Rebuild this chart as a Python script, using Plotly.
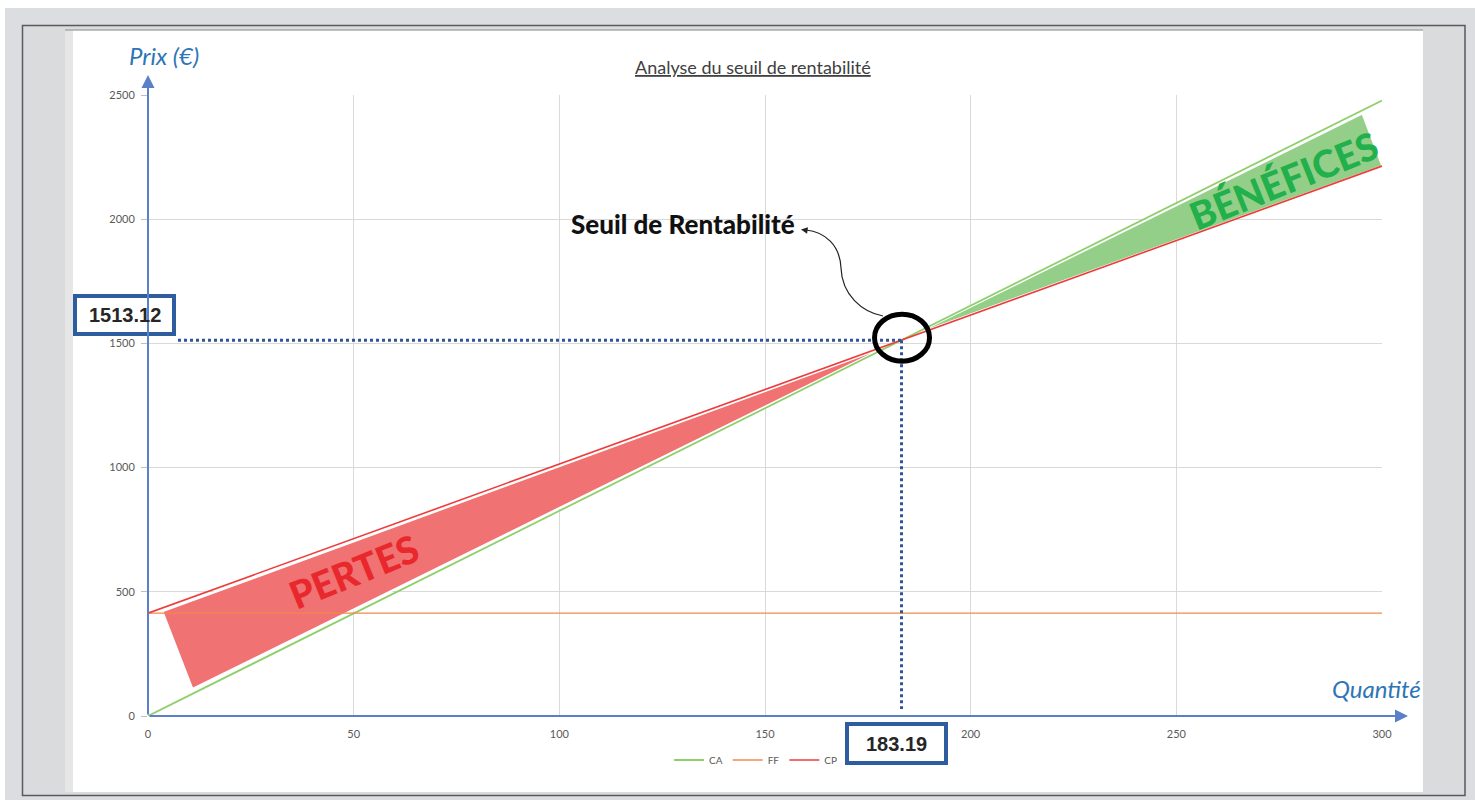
import numpy as np
import plotly.graph_objects as go

# ---- data -------------------------------------------------------------
quantite = [0, 50, 100, 150, 200, 250, 300]
ca = [0, 413, 826, 1239, 1652, 2065, 2478]          # chiffre d'affaires
ff = [414, 414, 414, 414, 414, 414, 414]            # frais fixes
cp = [414, 714, 1014, 1314, 1614, 1914, 2214]       # coût de production
seuil_q = 183.19
seuil_prix = 1513.12

x_ticks = [0, 50, 100, 150, 200, 250, 300]
y_ticks = [0, 500, 1000, 1500, 2000, 2500]

# ---- geometry of the page ----------------------------------------------
FIG_W, FIG_H = 1475, 800
L, T, PW, PH = 148, 95, 1234, 621     # plot area in page pixels


def px(x):
    return (x - L) / PW


def py(y):
    return (T + PH - y) / PH


def on_ca(q):
    return float(np.interp(q, quantite, ca))


def on_cp(q):
    return float(np.interp(q, quantite, cp))


FONT = "Lato"
BLUE_TXT = "#2e75b6"
BOX_BLUE = "#2d5d9f"
DOT_BLUE = "#2f5597"

fig = go.Figure()

fig.add_trace(go.Scatter(x=quantite, y=ca, name="CA", mode="lines",
                         line=dict(color="#8fcf6c", width=1.8)))
fig.add_trace(go.Scatter(x=quantite, y=ff, name="FF", mode="lines",
                         line=dict(color="#f08a4b", width=1.4)))
fig.add_trace(go.Scatter(x=quantite, y=cp, name="CP", mode="lines",
                         line=dict(color="#ee3b3b", width=1.6)))

shapes = []

# page background: grey window, dark frame, white sheet
shapes.append(dict(type="rect", xref="paper", yref="paper", layer="below",
                   x0=px(5), x1=px(FIG_W), y0=py(8), y1=py(FIG_H),
                   fillcolor="#dcdde0", line=dict(width=0)))
shapes.append(dict(type="rect", xref="paper", yref="paper", layer="below",
                   x0=px(22.5), x1=px(1465), y0=py(25.5), y1=py(795.5),
                   fillcolor="#dadbdd", line=dict(color="#5a5a5a", width=1.5)))
shapes.append(dict(type="rect", xref="paper", yref="paper", layer="below",
                   x0=px(65), x1=px(73), y0=py(29.5), y1=py(792),
                   fillcolor="#e6e6e6", line=dict(width=0)))
shapes.append(dict(type="rect", xref="paper", yref="paper", layer="below",
                   x0=px(73), x1=px(1423), y0=py(30), y1=py(792),
                   fillcolor="white", line=dict(width=0)))
shapes.append(dict(type="line", xref="paper", yref="paper", layer="below",
                   x0=px(65), x1=px(1423), y0=py(30), y1=py(30),
                   line=dict(color="#a8a8a8", width=1.5)))

# loss area (between CP and CA, left of the break-even point)
apex_l = seuil_q - 3.5
pertes_path = "M {},{} L {},{} L {},{} Z".format(
    3.5, on_cp(3.5) - 14,
    apex_l, (on_ca(apex_l) + on_cp(apex_l)) / 2,
    10.8, on_ca(10.8) + 20)
shapes.append(dict(type="path", xref="x", yref="y", layer="between",
                   path=pertes_path, fillcolor="#f07272",
                   line=dict(color="white", width=2)))

# profit area (between CA and CP, right of the break-even point)
apex_r = seuil_q + 3.5
benef_path = "M {},{} L {},{} L {},{} Z".format(
    apex_r, (on_ca(apex_r) + on_cp(apex_r)) / 2,
    295.2, on_ca(295.2) - 14,
    300, on_cp(300))
shapes.append(dict(type="path", xref="x", yref="y", layer="between",
                   path=benef_path, fillcolor="#93cf88",
                   line=dict(color="white", width=1.5)))

# dotted guides to the break-even values
shapes.append(dict(type="line", xref="paper", yref="y", layer="above",
                   x0=px(178), x1=px(L + seuil_q * PW / 300),
                   y0=seuil_prix, y1=seuil_prix,
                   line=dict(color=DOT_BLUE, width=3, dash="dot")))
shapes.append(dict(type="line", xref="x", yref="y", layer="above",
                   x0=seuil_q, x1=seuil_q, y0=seuil_prix, y1=28,
                   line=dict(color=DOT_BLUE, width=3, dash="dot")))

# circle around the break-even point
shapes.append(dict(type="circle", xref="x", yref="y", layer="above",
                   xsizemode="pixel", ysizemode="pixel",
                   xanchor=seuil_q, yanchor=seuil_prix,
                   x0=-27, x1=28, y0=-21, y1=26,
                   line=dict(color="black", width=5)))

# curved pointer from the circle to its label
pts = [(883, 316), (862, 312), (842, 295), (841, 268),
       (840, 245), (825, 232), (806, 230)]
pp = [(px(a), py(b)) for a, b in pts]
curve = "M {},{} C {},{} {},{} {},{} C {},{} {},{} {},{}".format(
    *[v for p in pp for v in p])
shapes.append(dict(type="path", xref="paper", yref="paper", layer="above",
                   path=curve, line=dict(color="#222222", width=1.2)))

# value boxes
shapes.append(dict(type="rect", xref="paper", yref="paper", layer="above",
                   x0=px(75), x1=px(174), y0=py(296), y1=py(334),
                   fillcolor="white", line=dict(color=BOX_BLUE, width=4)))
shapes.append(dict(type="rect", xref="paper", yref="paper", layer="above",
                   x0=px(847), x1=px(946), y0=py(724), y1=py(763),
                   fillcolor="white", line=dict(color=BOX_BLUE, width=4)))

annotations = []

# axis arrows
annotations.append(dict(xref="paper", yref="paper", x=0, y=py(75), text="",
                        showarrow=True, axref="pixel", ayref="pixel",
                        ax=0, ay=716 - 75, arrowhead=2, arrowsize=1.3,
                        arrowwidth=2, arrowcolor="#5a80c8"))
annotations.append(dict(xref="paper", yref="paper", x=px(1408), y=0, text="",
                        showarrow=True, axref="pixel", ayref="pixel",
                        ax=-(1408 - L), ay=0, arrowhead=2, arrowsize=1.3,
                        arrowwidth=2, arrowcolor="#5a80c8"))

# arrowhead of the pointer
annotations.append(dict(xref="paper", yref="paper", x=px(801), y=py(229.5),
                        text="", showarrow=True, ax=7, ay=1, arrowhead=2,
                        arrowsize=1.1, arrowwidth=1.2, arrowcolor="#222222"))

# title and axis names
annotations.append(dict(xref="paper", yref="paper", x=px(753), y=py(67),
                        text="<u>Analyse du seuil de rentabilité</u>",
                        showarrow=False, xanchor="center", yanchor="middle",
                        font=dict(family=FONT, size=18, color="#404040")))
annotations.append(dict(xref="paper", yref="paper", x=px(164), y=py(56),
                        text="<i>Prix (€)</i>", showarrow=False,
                        xanchor="center", yanchor="middle",
                        font=dict(family=FONT, size=24, color=BLUE_TXT)))
annotations.append(dict(xref="paper", yref="paper", x=px(1376), y=py(688),
                        text="<i>Quantité</i>", showarrow=False,
                        xanchor="center", yanchor="middle",
                        font=dict(family=FONT, size=24, color=BLUE_TXT)))

# break-even label
annotations.append(dict(xref="paper", yref="paper", x=px(683), y=py(224),
                        text="Seuil de Rentabilité", showarrow=False,
                        xanchor="center", yanchor="middle",
                        font=dict(family=FONT, size=26, color="#111111",
                                  weight=900)))

# zone labels
annotations.append(dict(xref="paper", yref="paper", x=px(353), y=py(571),
                        text="PERTES", showarrow=False, textangle=-22,
                        xanchor="center", yanchor="middle",
                        font=dict(family=FONT, size=38, color="#e8282c",
                                  weight=900)))
annotations.append(dict(xref="paper", yref="paper", x=px(1283), y=py(180),
                        text="BÉNÉFICES", showarrow=False, textangle=-22,
                        xanchor="center", yanchor="middle",
                        font=dict(family=FONT, size=38, color="#22b04c",
                                  weight=900)))

# boxed values
annotations.append(dict(xref="paper", yref="paper", x=px(124.5), y=py(315),
                        text="<b>{:.2f}</b>".format(seuil_prix), showarrow=False,
                        xanchor="center", yanchor="middle",
                        font=dict(family="Liberation Sans", size=20, color="#262626")))
annotations.append(dict(xref="paper", yref="paper", x=px(896.5), y=py(743.5),
                        text="<b>{:.2f}</b>".format(seuil_q), showarrow=False,
                        xanchor="center", yanchor="middle",
                        font=dict(family="Liberation Sans", size=20, color="#262626")))

fig.update_layout(
    width=FIG_W, height=FIG_H,
    margin=dict(l=L, r=FIG_W - L - PW, t=T, b=FIG_H - T - PH, pad=0),
    paper_bgcolor="white",
    plot_bgcolor="rgba(0,0,0,0)",
    shapes=shapes,
    annotations=annotations,
    showlegend=True,
    legend=dict(orientation="h", x=px(756), y=py(760), xanchor="center",
                yanchor="middle", itemwidth=30, bgcolor="rgba(0,0,0,0)",
                font=dict(family=FONT, size=10, color="#595959")),
    font=dict(family=FONT),
)

fig.update_xaxes(range=[0, 300], tickvals=x_ticks, showgrid=True,
                 gridcolor="#d9d9d9", gridwidth=1, zeroline=False,
                 showline=False, ticks="", ticklabelstandoff=10,
                 tickfont=dict(family=FONT, size=11, color="#595959"),
                 fixedrange=True)
fig.update_yaxes(range=[0, 2500], tickvals=y_ticks, showgrid=True,
                 gridcolor="#d9d9d9", gridwidth=1, zeroline=False,
                 showline=False, ticks="outside", ticklen=6,
                 tickcolor="#bfbfbf", ticklabelstandoff=4,
                 tickfont=dict(family=FONT, size=11, color="#595959"),
                 fixedrange=True)

fig.write_html("out.html")
